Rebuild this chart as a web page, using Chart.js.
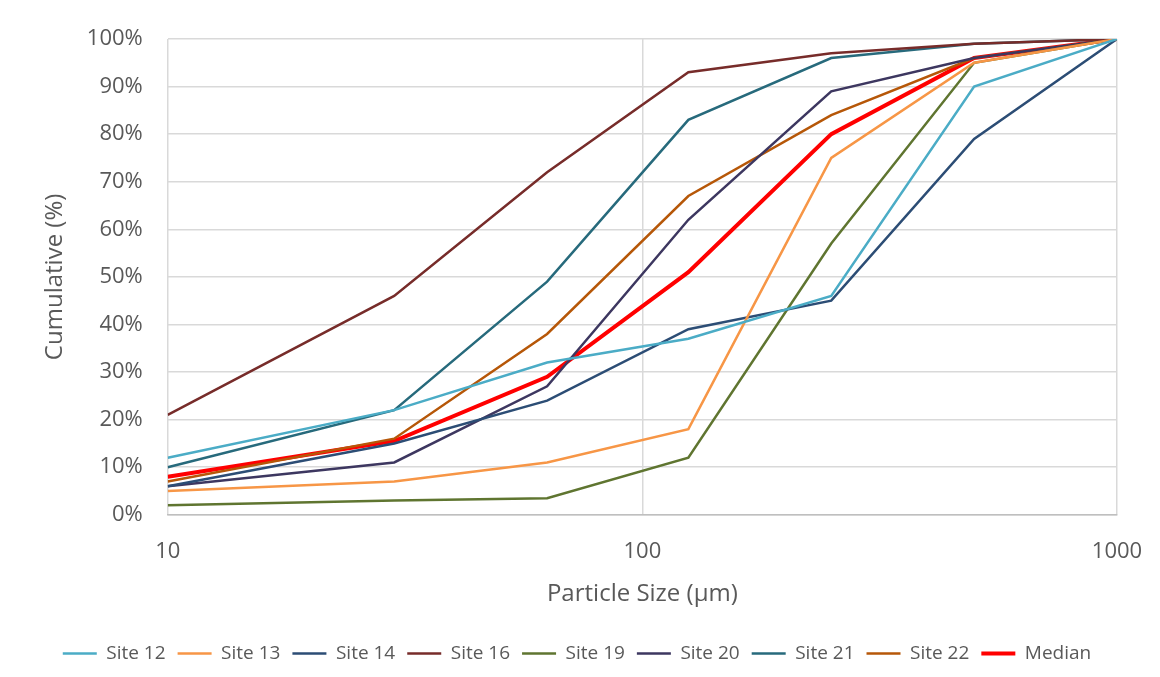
<!DOCTYPE html>
<html lang="en">
<head>
  <meta charset="UTF-8">
  <title>Cumulative particle size distribution</title>
  <script src="https://cdn.jsdelivr.net/npm/chart.js"></script>
  <style>
    body { margin: 0; background: #fff; }
    #wrap { width: 1160px; height: 677px; }
  </style>
</head>
<body>
  <div id="wrap"><canvas id="psd" width="1160" height="677"></canvas></div>
  <script>
    // sieve sizes (µm)
    const sizes = [10, 30, 63, 125, 250, 500, 1000];
    const xTicks = [10, 100, 1000];

    const site12 = [12, 22, 32, 37, 46, 90, 100];
    const site13 = [5, 7, 11, 18, 75, 95, 100];
    const site14 = [6, 15, 24, 39, 45, 79, 100];
    const site16 = [21, 46, 72, 93, 97, 99, 100];
    const site19 = [2, 3, 3.5, 12, 57, 95, 100];
    const site20 = [6, 11, 27, 62, 89, 96, 100];
    const site21 = [10, 22, 49, 83, 96, 99, 100];
    const site22 = [7, 16, 38, 67, 84, 96, 100];
    const median = [8, 15.5, 29, 51, 80, 96, 100];

    const seriesNames = ['Site 12', 'Site 13', 'Site 14', 'Site 16', 'Site 19', 'Site 20', 'Site 21', 'Site 22', 'Median'];
    const seriesValues = [site12, site13, site14, site16, site19, site20, site21, site22, median];
    const colors = ['#4BACC6', '#F79646', '#2C4D75', '#772C2A', '#5F7530', '#3D3760', '#276A7C', '#B65708', '#FF0000'];

    const datasets = seriesNames.map((name, i) => ({
      label: name,
      data: sizes.map((s, j) => ({ x: s, y: seriesValues[i][j] })),
      borderColor: colors[i],
      backgroundColor: colors[i],
      borderWidth: name === 'Median' ? 4 : 2.5,
      pointRadius: 0,
      pointStyle: 'line',
      tension: 0,
      fill: false
    }));

    const grey = '#595959';
    const font = '"Open Sans", Lato, sans-serif';

    new Chart(document.getElementById('psd'), {
      type: 'line',
      data: { datasets },
      options: {
        responsive: false,
        animation: false,
        layout: { padding: { left: 37, right: 43, top: 39, bottom: 4 } },
        scales: {
          x: {
            type: 'logarithmic',
            min: 10,
            max: 1000,
            afterBuildTicks: axis => { axis.ticks = xTicks.map(v => ({ value: v })); },
            ticks: {
              color: grey,
              font: { family: font, size: 22 },
              padding: 0,
              callback: v => String(v)
            },
            // invisible tick marks push the labels down without adding side padding
            grid: { color: '#D9D9D9', lineWidth: 1.5, drawTicks: true, tickLength: 24, tickColor: 'rgba(0,0,0,0)' },
            border: { color: '#BFBFBF', width: 1.5 },
            title: {
              display: true,
              text: 'Particle Size (µm)',
              color: grey,
              font: { family: font, size: 24 },
              padding: { top: 15, bottom: 23 }
            }
          },
          y: {
            min: 0,
            max: 100,
            ticks: {
              stepSize: 10,
              color: grey,
              font: { family: font, size: 22 },
              padding: 25,
              callback: v => v + '%'
            },
            grid: { color: '#D9D9D9', lineWidth: 1.5, drawTicks: false },
            border: { display: false },
            title: {
              display: true,
              text: 'Cumulative (%)',
              color: grey,
              font: { family: font, size: 24 },
              padding: { top: 4, bottom: -8 }
            }
          }
        },
        plugins: {
          legend: {
            position: 'bottom',
            labels: {
              usePointStyle: true,
              pointStyleWidth: 34,
              boxHeight: 3,
              padding: 12,
              color: grey,
              font: { family: font, size: 19 }
            }
          },
          tooltip: { enabled: false }
        }
      }
    });
  </script>
</body>
</html>
